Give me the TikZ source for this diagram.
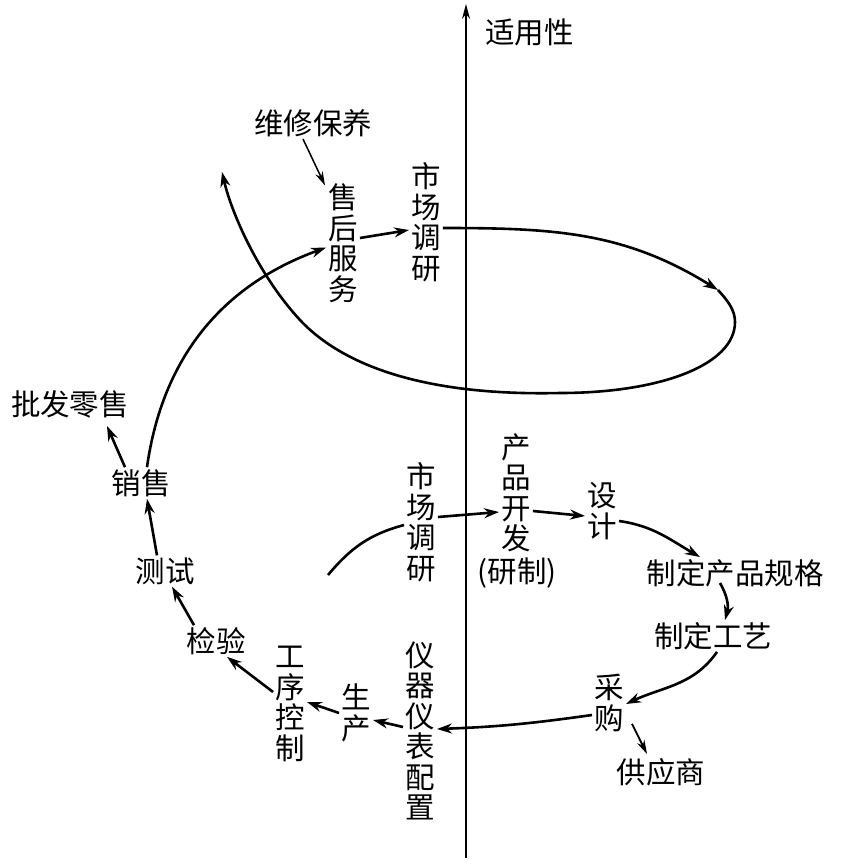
\documentclass[tikz,border=0pt]{standalone}
\usepackage{fontspec}
\setmainfont{Noto Sans CJK SC}
\usetikzlibrary{arrows.meta}
\begin{document}
\begin{tikzpicture}[x=1pt,y=-1pt,
  lb/.style={inner sep=2pt, font=\fontsize{29.5}{30.5}\selectfont, align=center},
  arr/.style={line width=2.6pt, -{Stealth[length=15pt,width=10pt]}},
  arrthin/.style={line width=1.5pt, -{Stealth[length=14pt,width=8pt]}}]
\useasboundingbox (0,0) rectangle (848,868);
% axis
\coordinate (axB) at (466,858);
\coordinate (axT) at (466,4);
\draw[line width=1.2pt, -{Stealth[length=15pt,width=8pt]}] (axB) -- (axT);
\node[lb, anchor=west] (yl) at (483,32) {适用性};
% labels
\node[lb] (wx) at (313,123) {维修保养};
\node[lb] (sh) at (343,243) {售\\后\\服\\务};
\node[lb] (sc1) at (426,222) {市\\场\\调\\研};
\node[lb] (pf) at (70,404) {批发零售};
\node[lb] (xs) at (141,483) {销售};
\node[lb] (cs) at (165,571) {测试};
\node[lb] (jy) at (216,641) {检验};
\node[lb] (gx) at (290,704) {工\\序\\控\\制};
\node[lb] (scn) at (356,713) {生\\产};
\node[lb] (yq) at (420,731) {仪\\器\\仪\\表\\配\\置};
\node[lb] (cg) at (609,703) {采\\购};
\node[lb] (gys) at (661,772) {供应商};
\node[lb] (gy) at (713,636) {制定工艺};
\node[lb] (gg) at (735,573) {制定产品规格};
\node[lb] (sj) at (602,511) {设\\计};
\node[lb] (kf) at (516,493) {产\\品\\开\\发};
\node[lb] (yz) at (517,573) {(研制)};
\node[lb] (sc2) at (421,522) {市\\场\\调\\研};
% big loop
\coordinate (p1) at (718,290);
\coordinate (p2) at (735,322);
\coordinate (p3) at (560,393);
\coordinate (p4) at (300,320);
\coordinate (p5) at (222,172);
\draw[arr] ([yshift=-6pt]sc1.east) to[out=0,in=148] (p1);
\draw[arr] (p1) .. controls (728,301) and (735,310) .. (p2)
  .. controls (735,365) and (660,393) .. (p3)
  .. controls (430,396) and (345,368) .. (p4)
  .. controls (260,277) and (232,215) .. (p5);
% left loop
\draw[arr] ([xshift=6pt]xs.north) to[out=82,in=200] (sh.195);
\draw[arrthin] ([xshift=-10pt]wx.south) -- ([xshift=-18pt,yshift=-4pt]sh.north);
\draw[arr] ([yshift=5pt]sh.east) -- ([yshift=-8pt]sc1.west);
\draw[arr] ([xshift=-16pt]xs.north) -- ([xshift=37pt,yshift=-6pt]pf.south);
\draw[arr] ([xshift=-8pt]cs.north) -- ([xshift=6pt]xs.south);
\draw[arr] ([xshift=-22pt]jy.north) -- ([xshift=7pt]cs.south);
\draw[arr] ([yshift=12pt]gx.west) -- ([xshift=11pt]jy.south);
\draw[arr] (scn.west) -- ([yshift=2pt]gx.east);
\draw[arr] ([yshift=4pt]yq.west) -- ([yshift=-7pt]scn.east);
\draw[arr] ([yshift=-12pt]cg.west) to[out=188,in=2] ([yshift=2pt]yq.east);
\draw[arrthin, line width=1.8pt] ([xshift=6pt,yshift=10pt]cg.south east) -- ([xshift=-14pt,yshift=2pt]gys.north);
\draw[arr] ([xshift=4pt]gy.south) to[out=-125,in=25] ([yshift=-1pt]cg.east);
\draw[arr] ([xshift=-15pt,yshift=6pt]gg.south) to[out=-60,in=75] ([xshift=12pt]gy.north);
\draw[arr] ([yshift=-10pt]sj.east) to[out=-8,in=150] ([xshift=-35pt]gg.north);
\draw[arr] ([yshift=-18pt]kf.east) -- ([yshift=-5pt]sj.west);
\draw[arr] ([yshift=5pt]sc2.east) -- ([yshift=-19pt]kf.west);
\coordinate (c0) at (328,575);
\draw[line width=2.6pt] (c0) to[out=50,in=195] ([yshift=-3pt]sc2.west);
\end{tikzpicture}
\end{document}
